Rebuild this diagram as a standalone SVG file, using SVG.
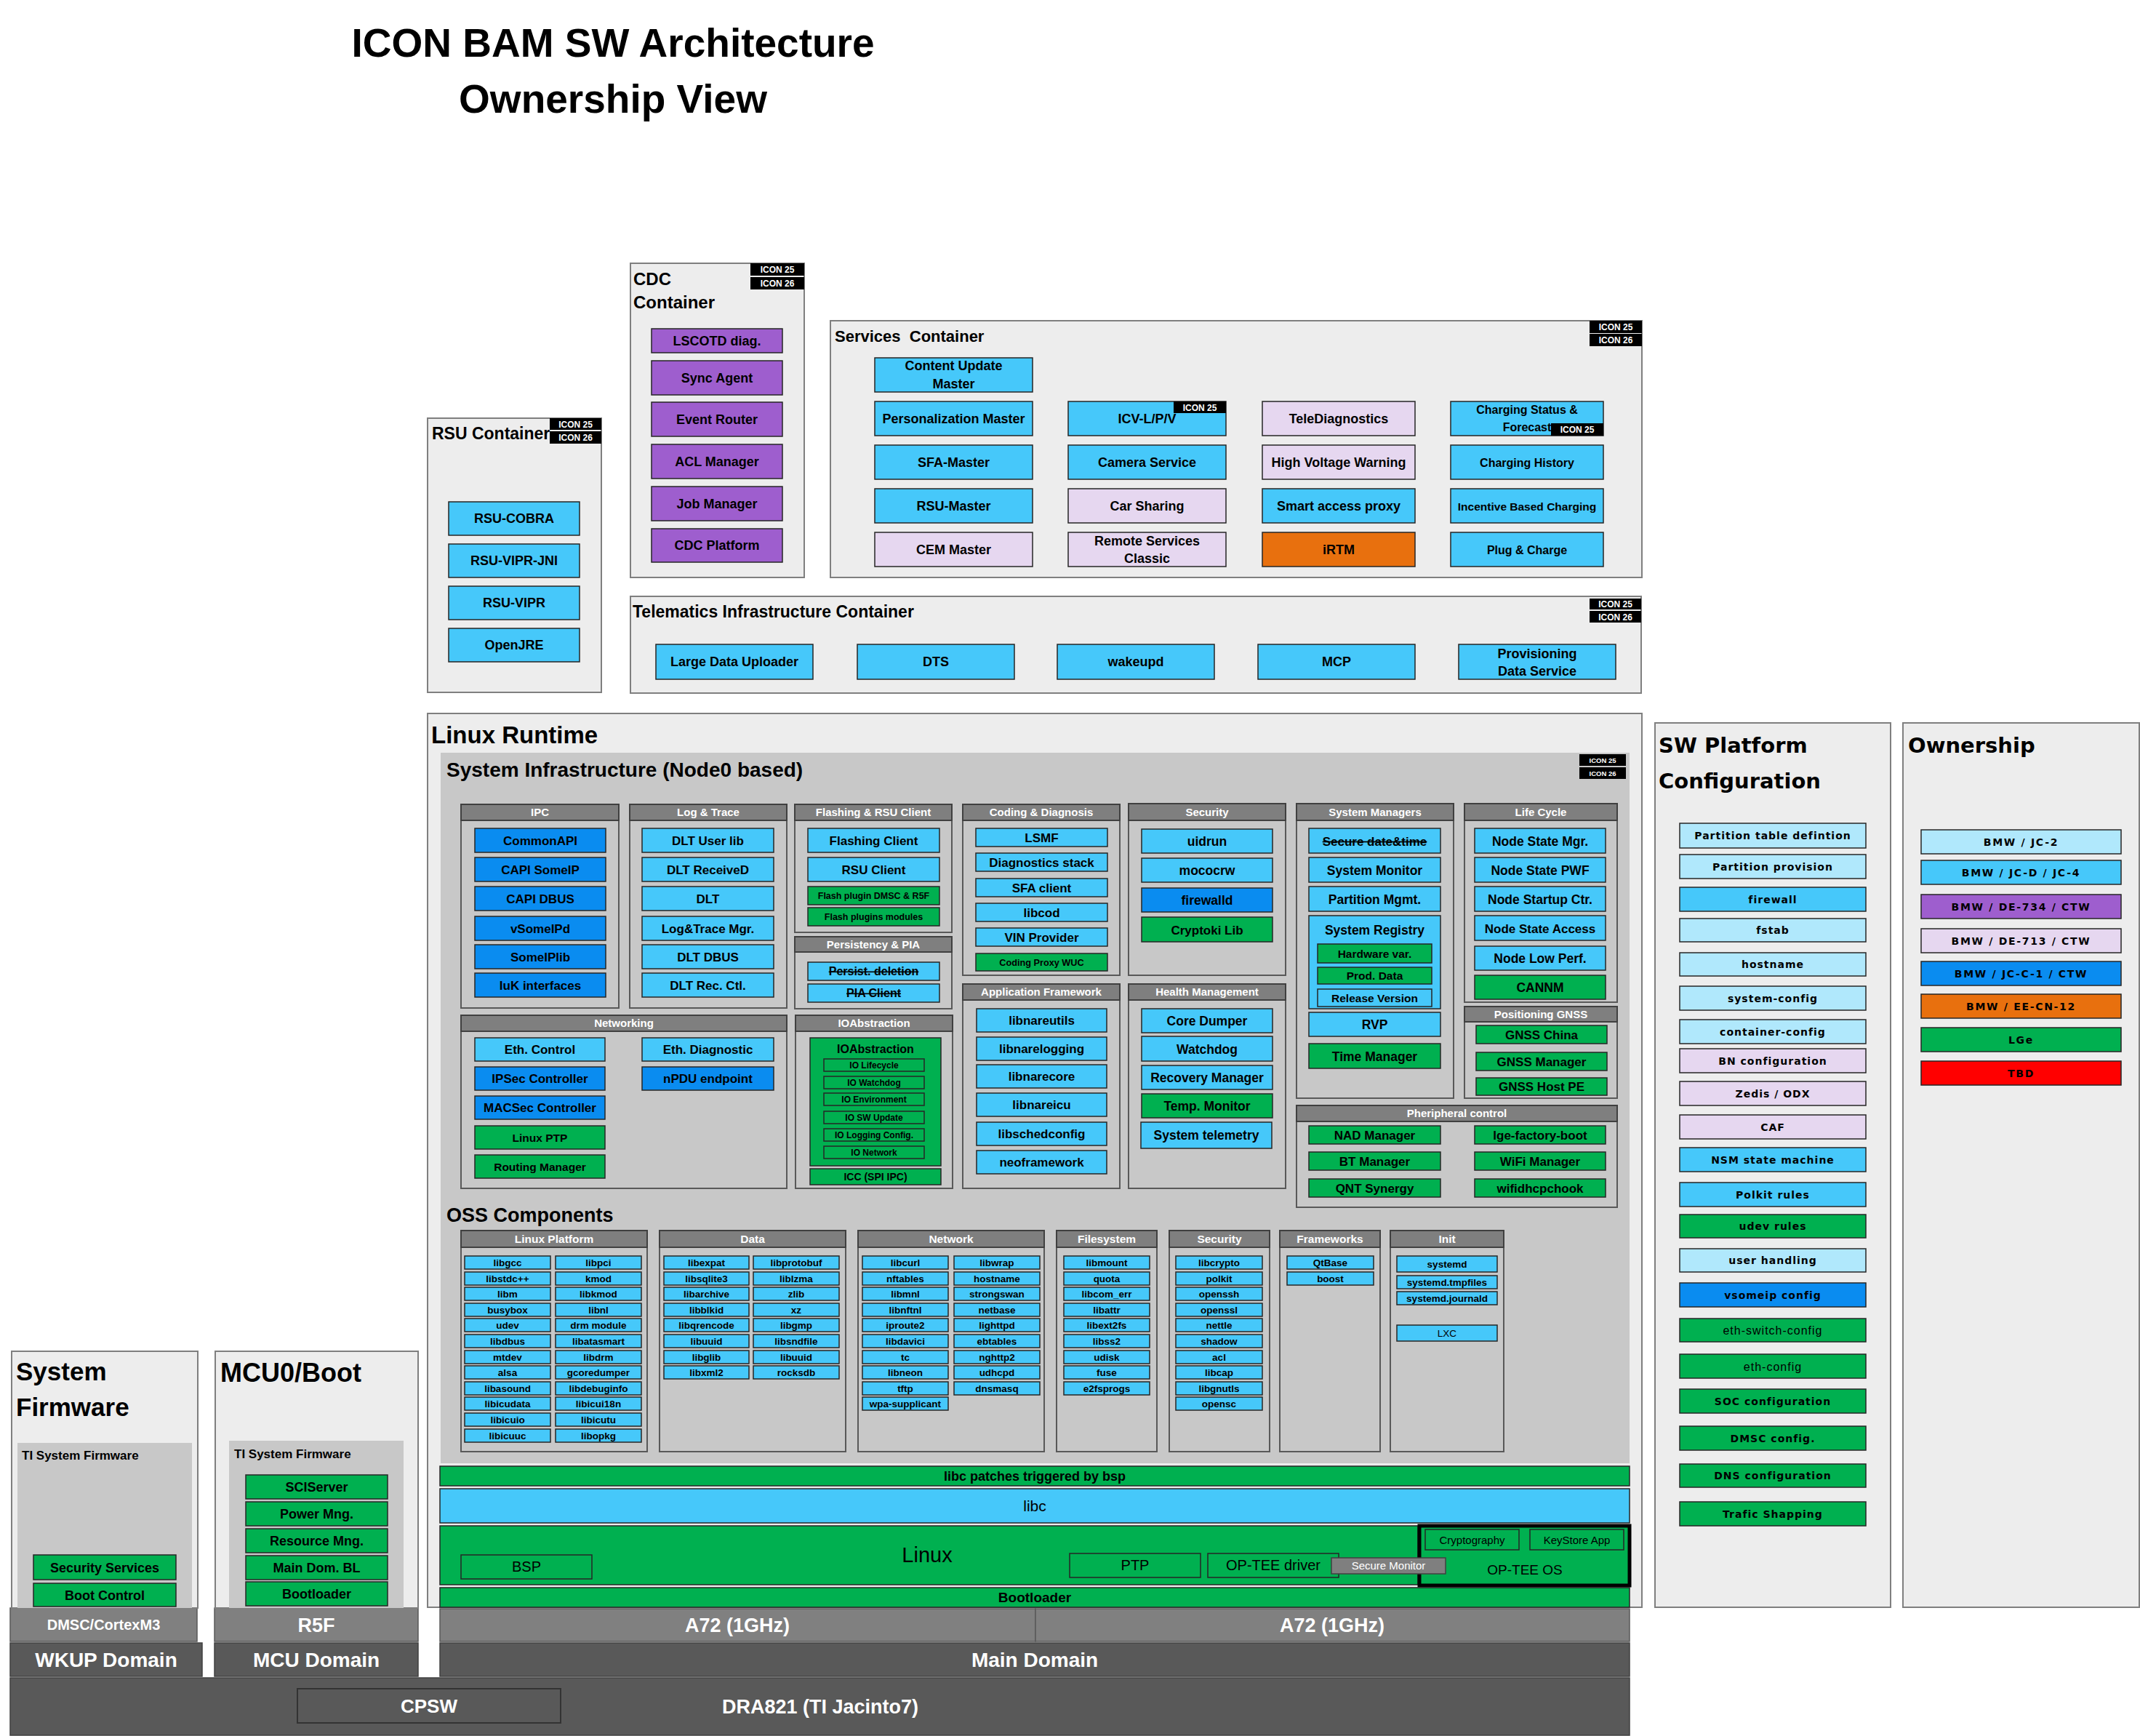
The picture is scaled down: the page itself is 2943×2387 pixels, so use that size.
<svg xmlns="http://www.w3.org/2000/svg" width="2943" height="2387" viewBox="0 0 2943 2387">
<style>
.ct{fill:#EDEDED;stroke:#7F7F7F;stroke-width:2}
.gy{fill:#C8C8C8}
.gb{fill:#C8C8C8;stroke:#595959;stroke-width:2}
.hd{fill:#7F7F7F;stroke:#404040;stroke-width:2}
.b{stroke:#262626;stroke-width:1.5}
.cy{fill:#46C8FA}.db{fill:#0A8CF0}.gr{fill:#00B050}.pu{fill:#9E5ECE}.lv{fill:#E6D7F0}.or{fill:#E8700E}.lc{fill:#B0E8FC}.rd{fill:#FF0000}
.bk{fill:#000}
.d1{fill:#808080;stroke:#595959;stroke-width:1.5}
.d2{fill:#595959;stroke:#404040;stroke-width:1.5}
.sm{fill:#7F7F7F;stroke:#404040;stroke-width:1.5}
text{font-family:"Liberation Sans",Arial,sans-serif;fill:#000}
.m{text-anchor:middle}
.B{font-weight:bold}
.w{fill:#fff}
.bt{font-size:12px;font-weight:bold;fill:#fff;text-anchor:middle}
.bs{font-size:9.5px;font-weight:bold;fill:#fff;text-anchor:middle}
.ht{font-size:15px;font-weight:bold;fill:#fff;text-anchor:middle}
.hto{font-size:15.5px;font-weight:bold;fill:#fff;text-anchor:middle}
.st{text-decoration:line-through}
.o{font-size:13.5px;font-weight:bold;text-anchor:middle}
.i{font-size:17px;font-weight:bold;text-anchor:middle}
.sv{font-size:18px;font-weight:bold;text-anchor:middle}
.j{font-size:17.5px;font-weight:bold;text-anchor:middle}
.io{font-size:12px;font-weight:bold;text-anchor:middle}
.dv{font-family:"DejaVu Sans",Verdana,sans-serif;font-weight:bold}
.sw{font-family:"DejaVu Sans",Verdana,sans-serif;font-weight:bold;font-size:14px;letter-spacing:1px;text-anchor:middle}
.ow{font-family:"DejaVu Sans",Verdana,sans-serif;font-weight:bold;font-size:14px;letter-spacing:1.7px;text-anchor:middle}
</style>

<g id="title">
<text class="m B" x="843" y="78" font-size="55">ICON BAM SW Architecture</text>
<text class="m B" x="843" y="155" font-size="55">Ownership View</text>
</g>

<!-- RSU Container -->
<g id="rsu-container">
<rect class="ct" x="588" y="575" width="239" height="377"/>
<text class="B" x="594" y="604" font-size="23">RSU Container</text>
<rect class="bk" x="756" y="575" width="71" height="16"/><text class="bt" x="791.5" y="587.5">ICON 25</text>
<rect class="bk" x="756" y="593" width="71" height="17"/><text class="bt" x="791.5" y="606">ICON 26</text>
</g>
<g id="rsu-cobra"><rect class="b cy" x="617" y="690" width="180" height="46"/><text class="m B" x="707" y="719" font-size="18">RSU-COBRA</text></g>
<g id="rsu-vipr-jni"><rect class="b cy" x="617" y="748" width="180" height="46"/><text class="m B" x="707" y="777" font-size="18">RSU-VIPR-JNI</text></g>
<g id="rsu-vipr"><rect class="b cy" x="617" y="806" width="180" height="46"/><text class="m B" x="707" y="835" font-size="18">RSU-VIPR</text></g>
<g id="openjre"><rect class="b cy" x="617" y="864" width="180" height="46"/><text class="m B" x="707" y="893" font-size="18">OpenJRE</text></g>

<!-- CDC Container -->
<g id="cdc-container">
<rect class="ct" x="867" y="362" width="239" height="432"/>
<text class="B" x="871" y="392" font-size="24">CDC</text>
<text class="B" x="871" y="424" font-size="24">Container</text>
<rect class="bk" x="1032" y="362" width="74" height="17"/><text class="bt" x="1069" y="375">ICON 25</text>
<rect class="bk" x="1032" y="381" width="74" height="17"/><text class="bt" x="1069" y="394">ICON 26</text>
</g>
<g id="lscotd"><rect class="b pu" x="896" y="452" width="180" height="33"/><text class="m B" x="986" y="475" font-size="18">LSCOTD diag.</text></g>
<g id="sync-agent"><rect class="b pu" x="896" y="496" width="180" height="47"/><text class="m B" x="986" y="526" font-size="18">Sync Agent</text></g>
<g id="event-router"><rect class="b pu" x="896" y="553" width="180" height="47"/><text class="m B" x="986" y="583" font-size="18">Event Router</text></g>
<g id="acl-manager"><rect class="b pu" x="896" y="611" width="180" height="47"/><text class="m B" x="986" y="641" font-size="18">ACL Manager</text></g>
<g id="job-manager"><rect class="b pu" x="896" y="669" width="180" height="47"/><text class="m B" x="986" y="699" font-size="18">Job Manager</text></g>
<g id="cdc-platform"><rect class="b pu" x="896" y="727" width="180" height="46"/><text class="m B" x="986" y="756" font-size="18">CDC Platform</text></g>

<!-- Services Container -->
<g id="services-container">
<rect class="ct" x="1142" y="441" width="1116" height="353"/>
<text class="B" x="1148" y="470" font-size="22" xml:space="preserve">Services  Container</text>
<rect class="bk" x="2186" y="441" width="72" height="17"/><text class="bt" x="2222" y="454">ICON 25</text>
<rect class="bk" x="2186" y="459" width="72" height="17"/><text class="bt" x="2222" y="472">ICON 26</text>
</g>
<g id="content-update-master"><rect class="b cy" x="1203" y="492" width="217" height="47"/><text class="sv" x="1311.5" y="509">Content Update</text><text class="sv" x="1311.5" y="534">Master</text></g>
<g id="personalization-master"><rect class="b cy" x="1203" y="552" width="217" height="47"/><text class="sv" x="1311.5" y="582">Personalization Master</text></g>
<g id="icv"><rect class="b cy" x="1469" y="552" width="217" height="47"/><text class="sv" x="1577.5" y="582">ICV-L/P/V</text><rect class="bk" x="1614" y="552" width="72" height="16"/><text class="bt" x="1650" y="564.5">ICON 25</text></g>
<g id="telediagnostics"><rect class="b lv" x="1736" y="552" width="210" height="47"/><text class="sv" x="1841" y="582">TeleDiagnostics</text></g>
<g id="charging-status"><rect class="b cy" x="1995" y="552" width="210" height="47"/><text class="m B" x="2100" y="569" font-size="16">Charging Status &amp;</text><text class="m B" x="2100" y="593" font-size="16">Forecast</text><rect class="bk" x="2133" y="582" width="72" height="17"/><text class="bt" x="2169" y="595">ICON 25</text></g>
<g id="sfa-master"><rect class="b cy" x="1203" y="612" width="217" height="47"/><text class="sv" x="1311.5" y="642">SFA-Master</text></g>
<g id="camera-service"><rect class="b cy" x="1469" y="612" width="217" height="47"/><text class="sv" x="1577.5" y="642">Camera Service</text></g>
<g id="high-voltage-warning"><rect class="b lv" x="1736" y="612" width="210" height="47"/><text class="sv" x="1841" y="642">High Voltage Warning</text></g>
<g id="charging-history"><rect class="b cy" x="1995" y="612" width="210" height="47"/><text class="m B" x="2100" y="642" font-size="16">Charging History</text></g>
<g id="rsu-master"><rect class="b cy" x="1203" y="672" width="217" height="47"/><text class="sv" x="1311.5" y="702">RSU-Master</text></g>
<g id="car-sharing"><rect class="b lv" x="1469" y="672" width="217" height="47"/><text class="sv" x="1577.5" y="702">Car Sharing</text></g>
<g id="smart-access-proxy"><rect class="b cy" x="1736" y="672" width="210" height="47"/><text class="sv" x="1841" y="702">Smart access proxy</text></g>
<g id="incentive-based-charging"><rect class="b cy" x="1995" y="672" width="210" height="47"/><text class="m B" x="2100" y="702" font-size="15.5">Incentive Based Charging</text></g>
<g id="cem-master"><rect class="b lv" x="1203" y="732" width="217" height="47"/><text class="sv" x="1311.5" y="762">CEM Master</text></g>
<g id="remote-services-classic"><rect class="b lv" x="1469" y="732" width="217" height="47"/><text class="sv" x="1577.5" y="750">Remote Services</text><text class="sv" x="1577.5" y="774">Classic</text></g>
<g id="irtm"><rect class="b or" x="1736" y="732" width="210" height="47"/><text class="sv" x="1841" y="762">iRTM</text></g>
<g id="plug-charge"><rect class="b cy" x="1995" y="732" width="210" height="47"/><text class="m B" x="2100" y="762" font-size="16">Plug &amp; Charge</text></g>

<!-- Telematics -->
<g id="telematics-container">
<rect class="ct" x="867" y="820" width="1390" height="133"/>
<text class="B" x="870" y="849" font-size="23">Telematics Infrastructure Container</text>
<rect class="bk" x="2186" y="823" width="71" height="15"/><text class="bt" x="2221.5" y="835">ICON 25</text>
<rect class="bk" x="2186" y="840" width="71" height="16"/><text class="bt" x="2221.5" y="852.5">ICON 26</text>
</g>
<g id="large-data-uploader"><rect class="b cy" x="902" y="886" width="216" height="48"/><text class="m B" x="1010" y="916" font-size="18">Large Data Uploader</text></g>
<g id="dts"><rect class="b cy" x="1179" y="886" width="216" height="48"/><text class="m B" x="1287" y="916" font-size="18">DTS</text></g>
<g id="wakeupd"><rect class="b cy" x="1454" y="886" width="216" height="48"/><text class="m B" x="1562" y="916" font-size="18">wakeupd</text></g>
<g id="mcp"><rect class="b cy" x="1730" y="886" width="216" height="48"/><text class="m B" x="1838" y="916" font-size="18">MCP</text></g>
<g id="provisioning-data-service"><rect class="b cy" x="2006" y="886" width="216" height="48"/><text class="m B" x="2114" y="905" font-size="18">Provisioning</text><text class="m B" x="2114" y="929" font-size="18">Data Service</text></g>

<!-- Linux Runtime -->
<g id="linux-runtime">
<rect class="ct" x="588" y="981" width="1670" height="1229"/>
<text class="B" x="593" y="1022" font-size="33">Linux Runtime</text>
<rect class="gy" x="606" y="1035" width="1635" height="977"/>
<text class="B" x="614" y="1068" font-size="28">System Infrastructure (Node0 based)</text>
<rect class="bk" x="2172" y="1037" width="64" height="16"/><text class="bs" x="2204" y="1048.5">ICON 25</text>
<rect class="bk" x="2172" y="1055" width="64" height="16"/><text class="bs" x="2204" y="1066.5">ICON 26</text>
</g>

<!-- Groups -->
<g id="grp-ipc"><rect class="gb" x="634" y="1106" width="217" height="280"/><rect class="hd" x="634" y="1106" width="217" height="22"/><text class="ht" x="742.5" y="1122">IPC</text></g>
<g id="grp-log"><rect class="gb" x="866" y="1106" width="216" height="280"/><rect class="hd" x="866" y="1106" width="216" height="22"/><text class="ht" x="974" y="1122">Log &amp; Trace</text></g>
<g id="grp-flash"><rect class="gb" x="1093" y="1106" width="216" height="176"/><rect class="hd" x="1093" y="1106" width="216" height="22"/><text class="ht" x="1201" y="1122">Flashing &amp; RSU Client</text></g>
<g id="grp-persist"><rect class="gb" x="1093" y="1288" width="216" height="99"/><rect class="hd" x="1093" y="1288" width="216" height="21"/><text class="ht" x="1201" y="1303.5">Persistency &amp; PIA</text></g>
<g id="grp-coding"><rect class="gb" x="1324" y="1106" width="216" height="235"/><rect class="hd" x="1324" y="1106" width="216" height="22"/><text class="ht" x="1432" y="1122">Coding &amp; Diagnosis</text></g>
<g id="grp-appfw"><rect class="gb" x="1324" y="1353" width="216" height="281"/><rect class="hd" x="1324" y="1353" width="216" height="22"/><text class="ht" x="1432" y="1369">Application Framework</text></g>
<g id="grp-security"><rect class="gb" x="1552" y="1105" width="216" height="236"/><rect class="hd" x="1552" y="1105" width="216" height="23"/><text class="ht" x="1660" y="1121.5">Security</text></g>
<g id="grp-health"><rect class="gb" x="1552" y="1353" width="216" height="281"/><rect class="hd" x="1552" y="1353" width="216" height="22"/><text class="ht" x="1660" y="1369">Health Management</text></g>
<g id="grp-sysmgr"><rect class="gb" x="1783" y="1105" width="216" height="405"/><rect class="hd" x="1783" y="1105" width="216" height="23"/><text class="ht" x="1891" y="1121.5">System Managers</text></g>
<g id="grp-lifecycle"><rect class="gb" x="2014" y="1105" width="210" height="273"/><rect class="hd" x="2014" y="1105" width="210" height="23"/><text class="ht" x="2119" y="1121.5">Life Cycle</text></g>
<g id="grp-gnss"><rect class="gb" x="2014" y="1384" width="210" height="126"/><rect class="hd" x="2014" y="1384" width="210" height="21"/><text class="ht" x="2119" y="1399.5">Positioning GNSS</text></g>
<g id="grp-periph"><rect class="gb" x="1783" y="1520" width="441" height="140"/><rect class="hd" x="1783" y="1520" width="441" height="22"/><text class="ht" x="2003.5" y="1536">Pheripheral control</text></g>
<g id="grp-networking"><rect class="gb" x="634" y="1396" width="448" height="238"/><rect class="hd" x="634" y="1396" width="448" height="22"/><text class="ht" x="858" y="1412">Networking</text></g>
<g id="grp-ioabs"><rect class="gb" x="1094" y="1396" width="216" height="238"/><rect class="hd" x="1094" y="1396" width="216" height="22"/><text class="ht" x="1202" y="1412">IOAbstraction</text></g>

<!-- IPC items -->
<g id="commonapi"><rect class="b db" x="653" y="1139" width="180" height="33"/><text class="i" x="743" y="1162">CommonAPI</text></g>
<g id="capi-someip"><rect class="b db" x="653" y="1179" width="180" height="33"/><text class="i" x="743" y="1202">CAPI SomeIP</text></g>
<g id="capi-dbus"><rect class="b db" x="653" y="1219" width="180" height="33"/><text class="i" x="743" y="1242">CAPI DBUS</text></g>
<g id="vsomeipd"><rect class="b db" x="653" y="1260" width="180" height="33"/><text class="i" x="743" y="1283">vSomeIPd</text></g>
<g id="someiplib"><rect class="b db" x="653" y="1299" width="180" height="33"/><text class="i" x="743" y="1322">SomeIPlib</text></g>
<g id="iuk"><rect class="b db" x="653" y="1338" width="180" height="33"/><text class="i" x="743" y="1361">IuK interfaces</text></g>
<!-- Log items -->
<g id="dlt-user-lib"><rect class="b cy" x="883" y="1139" width="181" height="33"/><text class="i" x="973.5" y="1162">DLT User lib</text></g>
<g id="dlt-received"><rect class="b cy" x="883" y="1179" width="181" height="33"/><text class="i" x="973.5" y="1202">DLT ReceiveD</text></g>
<g id="dlt"><rect class="b cy" x="883" y="1219" width="181" height="33"/><text class="i" x="973.5" y="1242">DLT</text></g>
<g id="logtrace-mgr"><rect class="b cy" x="883" y="1260" width="181" height="33"/><text class="i" x="973.5" y="1283">Log&amp;Trace Mgr.</text></g>
<g id="dlt-dbus"><rect class="b cy" x="883" y="1299" width="181" height="33"/><text class="i" x="973.5" y="1322">DLT DBUS</text></g>
<g id="dlt-rec-ctl"><rect class="b cy" x="883" y="1338" width="181" height="33"/><text class="i" x="973.5" y="1361">DLT Rec. Ctl.</text></g>
<!-- Flashing -->
<g id="flashing-client"><rect class="b cy" x="1111" y="1139" width="181" height="33"/><text class="i" x="1201.5" y="1162">Flashing Client</text></g>
<g id="rsu-client"><rect class="b cy" x="1111" y="1179" width="181" height="33"/><text class="i" x="1201.5" y="1202">RSU Client</text></g>
<g id="flash-plugin-dmsc"><rect class="b gr" x="1111" y="1219" width="181" height="25"/><text class="m B" x="1201.5" y="1236" font-size="12.5">Flash plugin DMSC &amp; R5F</text></g>
<g id="flash-plugins-modules"><rect class="b gr" x="1111" y="1248" width="181" height="25"/><text class="m B" x="1201.5" y="1265" font-size="12.5">Flash plugins modules</text></g>
<g id="persist-deletion"><rect class="b cy" x="1111" y="1323" width="181" height="25"/><text class="m B st" x="1201.5" y="1341" font-size="16">Persist. deletion</text></g>
<g id="pia-client"><rect class="b cy" x="1111" y="1353" width="181" height="25"/><text class="m B st" x="1201.5" y="1371" font-size="16">PIA Client</text></g>
<!-- Coding -->
<g id="lsmf"><rect class="b cy" x="1342" y="1139" width="181" height="25"/><text class="i" x="1432.5" y="1157.5">LSMF</text></g>
<g id="diagnostics-stack"><rect class="b cy" x="1342" y="1173" width="181" height="25"/><text class="i" x="1432.5" y="1191.5">Diagnostics stack</text></g>
<g id="sfa-client"><rect class="b cy" x="1342" y="1208" width="181" height="25"/><text class="i" x="1432.5" y="1226.5">SFA client</text></g>
<g id="libcod"><rect class="b cy" x="1342" y="1242" width="181" height="25"/><text class="i" x="1432.5" y="1260.5">libcod</text></g>
<g id="vin-provider"><rect class="b cy" x="1342" y="1276" width="181" height="25"/><text class="i" x="1432.5" y="1294.5">VIN Provider</text></g>
<g id="coding-proxy-wuc"><rect class="b gr" x="1342" y="1311" width="181" height="24"/><text class="m B" x="1432.5" y="1327.5" font-size="12.7">Coding Proxy WUC</text></g>
<!-- App Framework -->
<g id="libnareutils"><rect class="b cy" x="1343" y="1387" width="179" height="32"/><text class="i" x="1432.5" y="1409">libnareutils</text></g>
<g id="libnarelogging"><rect class="b cy" x="1343" y="1426" width="179" height="32"/><text class="i" x="1432.5" y="1448">libnarelogging</text></g>
<g id="libnarecore"><rect class="b cy" x="1343" y="1464" width="179" height="32"/><text class="i" x="1432.5" y="1486">libnarecore</text></g>
<g id="libnareicu"><rect class="b cy" x="1343" y="1503" width="179" height="32"/><text class="i" x="1432.5" y="1525">libnareicu</text></g>
<g id="libschedconfig"><rect class="b cy" x="1343" y="1543" width="179" height="32"/><text class="i" x="1432.5" y="1565">libschedconfig</text></g>
<g id="neoframework"><rect class="b cy" x="1343" y="1582" width="179" height="32"/><text class="i" x="1432.5" y="1604">neoframework</text></g>
<!-- Security -->
<g id="uidrun"><rect class="b cy" x="1570" y="1140" width="180" height="33"/><text class="j" x="1660" y="1163">uidrun</text></g>
<g id="mococrw"><rect class="b cy" x="1570" y="1180" width="180" height="33"/><text class="j" x="1660" y="1203">mococrw</text></g>
<g id="firewalld"><rect class="b db" x="1570" y="1221" width="180" height="33"/><text class="j" x="1660" y="1244">firewalld</text></g>
<g id="cryptoki-lib"><rect class="b gr" x="1570" y="1261" width="180" height="34"/><text class="i" x="1660" y="1284.5">Cryptoki Lib</text></g>
<!-- Health -->
<g id="core-dumper"><rect class="b cy" x="1570" y="1387" width="180" height="33"/><text class="j" x="1660" y="1410">Core Dumper</text></g>
<g id="watchdog"><rect class="b cy" x="1570" y="1425" width="180" height="34"/><text class="j" x="1660" y="1448.5">Watchdog</text></g>
<g id="recovery-manager"><rect class="b cy" x="1570" y="1465" width="180" height="33"/><text class="j" x="1660" y="1488">Recovery Manager</text></g>
<g id="temp-monitor"><rect class="b gr" x="1570" y="1504" width="180" height="33"/><text class="j" x="1660" y="1527">Temp. Monitor</text></g>
<g id="system-telemetry"><rect class="b cy" x="1569" y="1543" width="180" height="36"/><text class="j" x="1659" y="1567">System telemetry</text></g>
<!-- System Managers -->
<g id="secure-date-time"><rect class="b cy" x="1800" y="1139" width="181" height="34"/><text class="m B st" x="1890.5" y="1162.5" font-size="17">Secure date&amp;time</text></g>
<g id="system-monitor"><rect class="b cy" x="1800" y="1179" width="181" height="34"/><text class="j" x="1890.5" y="1202.5">System Monitor</text></g>
<g id="partition-mgmt"><rect class="b cy" x="1800" y="1219" width="181" height="34"/><text class="j" x="1890.5" y="1242.5">Partition Mgmt.</text></g>
<g id="system-registry"><rect class="b cy" x="1800" y="1259" width="181" height="128"/><text class="j" x="1890.5" y="1285">System Registry</text>
<rect class="b gr" x="1812" y="1298" width="157" height="26"/><text class="m B" x="1890.5" y="1316.5" font-size="15.5">Hardware var.</text>
<rect class="b gr" x="1812" y="1330" width="157" height="23"/><text class="m B" x="1890.5" y="1347" font-size="15.5">Prod. Data</text>
<rect class="b cy" x="1812" y="1360" width="157" height="24"/><text class="m B" x="1890.5" y="1377.5" font-size="15.5">Release Version</text></g>
<g id="rvp"><rect class="b cy" x="1800" y="1392" width="181" height="33"/><text class="j" x="1890.5" y="1415">RVP</text></g>
<g id="time-manager"><rect class="b gr" x="1800" y="1435" width="181" height="34"/><text class="j" x="1890.5" y="1458.5">Time Manager</text></g>
<!-- Life Cycle -->
<g id="node-state-mgr"><rect class="b cy" x="2028" y="1139" width="180" height="34"/><text class="j" x="2118" y="1162.5">Node State Mgr.</text></g>
<g id="node-state-pwf"><rect class="b cy" x="2028" y="1179" width="180" height="34"/><text class="j" x="2118" y="1202.5">Node State PWF</text></g>
<g id="node-startup-ctr"><rect class="b cy" x="2028" y="1219" width="180" height="34"/><text class="j" x="2118" y="1242.5">Node Startup Ctr.</text></g>
<g id="node-state-access"><rect class="b cy" x="2028" y="1259" width="180" height="34"/><text class="m B" x="2118" y="1282.5" font-size="17">Node State Access</text></g>
<g id="node-low-perf"><rect class="b cy" x="2028" y="1301" width="180" height="33"/><text class="j" x="2118" y="1324">Node Low Perf.</text></g>
<g id="cannm"><rect class="b gr" x="2028" y="1341" width="180" height="33"/><text class="j" x="2118" y="1364">CANNM</text></g>
<!-- GNSS -->
<g id="gnss-china"><rect class="b gr" x="2030" y="1410" width="180" height="25"/><text class="i" x="2120" y="1428.5">GNSS China</text></g>
<g id="gnss-manager"><rect class="b gr" x="2030" y="1447" width="180" height="25"/><text class="i" x="2120" y="1465.5">GNSS Manager</text></g>
<g id="gnss-host-pe"><rect class="b gr" x="2030" y="1482" width="180" height="24"/><text class="i" x="2120" y="1500">GNSS Host PE</text></g>
<!-- Peripheral -->
<g id="nad-manager"><rect class="b gr" x="1800" y="1548" width="181" height="25"/><text class="i" x="1890.5" y="1566.5">NAD Manager</text></g>
<g id="bt-manager"><rect class="b gr" x="1800" y="1584" width="181" height="25"/><text class="i" x="1890.5" y="1602.5">BT Manager</text></g>
<g id="qnt-synergy"><rect class="b gr" x="1800" y="1621" width="181" height="25"/><text class="i" x="1890.5" y="1639.5">QNT Synergy</text></g>
<g id="lge-factory-boot"><rect class="b gr" x="2028" y="1548" width="180" height="25"/><text class="i" x="2118" y="1566.5">lge-factory-boot</text></g>
<g id="wifi-manager"><rect class="b gr" x="2028" y="1584" width="180" height="25"/><text class="i" x="2118" y="1602.5">WiFi Manager</text></g>
<g id="wifidhcpchook"><rect class="b gr" x="2028" y="1621" width="180" height="25"/><text class="i" x="2118" y="1639.5">wifidhcpchook</text></g>
<!-- Networking -->
<g id="eth-control"><rect class="b cy" x="653" y="1427" width="179" height="32"/><text class="i" x="742.5" y="1449">Eth. Control</text></g>
<g id="ipsec-controller"><rect class="b db" x="653" y="1467" width="179" height="32"/><text class="i" x="742.5" y="1489">IPSec Controller</text></g>
<g id="macsec-controller"><rect class="b db" x="653" y="1507" width="179" height="32"/><text class="i" x="742.5" y="1529">MACSec Controller</text></g>
<g id="linux-ptp"><rect class="b gr" x="653" y="1548" width="179" height="32"/><text class="m B" x="742.5" y="1569.5" font-size="15.5">Linux PTP</text></g>
<g id="routing-manager"><rect class="b gr" x="653" y="1588" width="179" height="32"/><text class="m B" x="742.5" y="1609.5" font-size="15.5">Routing Manager</text></g>
<g id="eth-diagnostic"><rect class="b cy" x="883" y="1427" width="181" height="32"/><text class="i" x="973.5" y="1449">Eth. Diagnostic</text></g>
<g id="npdu-endpoint"><rect class="b db" x="883" y="1467" width="181" height="32"/><text class="i" x="973.5" y="1489">nPDU endpoint</text></g>
<!-- IOAbstraction -->
<g id="ioabstraction"><rect class="b gr" x="1114" y="1427" width="180" height="176"/><text class="m B" x="1204" y="1448" font-size="16">IOAbstraction</text>
<rect class="b gr" x="1133" y="1456" width="138" height="17"/><text class="io" x="1202" y="1468.7">IO Lifecycle</text>
<rect class="b gr" x="1133" y="1480" width="138" height="17"/><text class="io" x="1202" y="1492.7">IO Watchdog</text>
<rect class="b gr" x="1133" y="1503" width="138" height="17"/><text class="io" x="1202" y="1515.7">IO Environment</text>
<rect class="b gr" x="1133" y="1528" width="138" height="17"/><text class="io" x="1202" y="1540.7">IO SW Update</text>
<rect class="b gr" x="1133" y="1552" width="138" height="17"/><text class="io" x="1202" y="1564.7">IO Logging Config.</text>
<rect class="b gr" x="1133" y="1576" width="138" height="17"/><text class="io" x="1202" y="1588.7">IO Network</text></g>
<g id="icc-spi-ipc"><rect class="b gr" x="1114" y="1607" width="180" height="22"/><text class="m B" x="1204" y="1623" font-size="14">ICC (SPI IPC)</text></g>

<!-- OSS Components -->
<g id="oss-title"><text class="B" x="614" y="1680" font-size="27">OSS Components</text></g>
<g id="oss-linux-platform"><rect class="gb" x="634" y="1692" width="256" height="304"/><rect class="hd" x="634" y="1692" width="256" height="23"/><text class="hto" x="762" y="1709">Linux Platform</text>
<g class="cy b">
<rect x="639" y="1727" width="118" height="18"/><rect x="639" y="1749" width="118" height="18"/><rect x="639" y="1770" width="118" height="18"/><rect x="639" y="1792" width="118" height="18"/><rect x="639" y="1813" width="118" height="18"/><rect x="639" y="1835" width="118" height="18"/><rect x="639" y="1857" width="118" height="18"/><rect x="639" y="1878" width="118" height="18"/><rect x="639" y="1900" width="118" height="18"/><rect x="639" y="1921" width="118" height="18"/><rect x="639" y="1943" width="118" height="18"/><rect x="639" y="1965" width="118" height="18"/>
<rect x="764" y="1727" width="118" height="18"/><rect x="764" y="1749" width="118" height="18"/><rect x="764" y="1770" width="118" height="18"/><rect x="764" y="1792" width="118" height="18"/><rect x="764" y="1813" width="118" height="18"/><rect x="764" y="1835" width="118" height="18"/><rect x="764" y="1857" width="118" height="18"/><rect x="764" y="1878" width="118" height="18"/><rect x="764" y="1900" width="118" height="18"/><rect x="764" y="1921" width="118" height="18"/><rect x="764" y="1943" width="118" height="18"/><rect x="764" y="1965" width="118" height="18"/>
</g>
<text class="o" x="698" y="1740.7">libgcc</text><text class="o" x="698" y="1762.7">libstdc++</text><text class="o" x="698" y="1783.7">libm</text><text class="o" x="698" y="1805.7">busybox</text><text class="o" x="698" y="1826.7">udev</text><text class="o" x="698" y="1848.7">libdbus</text><text class="o" x="698" y="1870.7">mtdev</text><text class="o" x="698" y="1891.7">alsa</text><text class="o" x="698" y="1913.7">libasound</text><text class="o" x="698" y="1934.7">libicudata</text><text class="o" x="698" y="1956.7">libicuio</text><text class="o" x="698" y="1978.7">libicuuc</text>
<text class="o" x="823" y="1740.7">libpci</text><text class="o" x="823" y="1762.7">kmod</text><text class="o" x="823" y="1783.7">libkmod</text><text class="o" x="823" y="1805.7">libnl</text><text class="o" x="823" y="1826.7">drm module</text><text class="o" x="823" y="1848.7">libatasmart</text><text class="o" x="823" y="1870.7">libdrm</text><text class="o" x="823" y="1891.7">gcoredumper</text><text class="o" x="823" y="1913.7">libdebuginfo</text><text class="o" x="823" y="1934.7">libicui18n</text><text class="o" x="823" y="1956.7">libicutu</text><text class="o" x="823" y="1978.7">libopkg</text>
</g>
<g id="oss-data"><rect class="gb" x="907" y="1692" width="256" height="304"/><rect class="hd" x="907" y="1692" width="256" height="23"/><text class="hto" x="1035" y="1709">Data</text>
<g class="cy b">
<rect x="913" y="1727" width="117" height="18"/><rect x="913" y="1749" width="117" height="18"/><rect x="913" y="1770" width="117" height="18"/><rect x="913" y="1792" width="117" height="18"/><rect x="913" y="1813" width="117" height="18"/><rect x="913" y="1835" width="117" height="18"/><rect x="913" y="1857" width="117" height="18"/><rect x="913" y="1878" width="117" height="18"/>
<rect x="1036" y="1727" width="118" height="18"/><rect x="1036" y="1749" width="118" height="18"/><rect x="1036" y="1770" width="118" height="18"/><rect x="1036" y="1792" width="118" height="18"/><rect x="1036" y="1813" width="118" height="18"/><rect x="1036" y="1835" width="118" height="18"/><rect x="1036" y="1857" width="118" height="18"/><rect x="1036" y="1878" width="118" height="18"/>
</g>
<text class="o" x="971.5" y="1740.7">libexpat</text><text class="o" x="971.5" y="1762.7">libsqlite3</text><text class="o" x="971.5" y="1783.7">libarchive</text><text class="o" x="971.5" y="1805.7">libblkid</text><text class="o" x="971.5" y="1826.7">libqrencode</text><text class="o" x="971.5" y="1848.7">libuuid</text><text class="o" x="971.5" y="1870.7">libglib</text><text class="o" x="971.5" y="1891.7">libxml2</text>
<text class="o" x="1095" y="1740.7">libprotobuf</text><text class="o" x="1095" y="1762.7">liblzma</text><text class="o" x="1095" y="1783.7">zlib</text><text class="o" x="1095" y="1805.7">xz</text><text class="o" x="1095" y="1826.7">libgmp</text><text class="o" x="1095" y="1848.7">libsndfile</text><text class="o" x="1095" y="1870.7">libuuid</text><text class="o" x="1095" y="1891.7">rocksdb</text>
</g>
<g id="oss-network"><rect class="gb" x="1180" y="1692" width="256" height="304"/><rect class="hd" x="1180" y="1692" width="256" height="23"/><text class="hto" x="1308" y="1709">Network</text>
<g class="cy b">
<rect x="1186" y="1727" width="118" height="18"/><rect x="1186" y="1749" width="118" height="18"/><rect x="1186" y="1770" width="118" height="18"/><rect x="1186" y="1792" width="118" height="18"/><rect x="1186" y="1813" width="118" height="18"/><rect x="1186" y="1835" width="118" height="18"/><rect x="1186" y="1857" width="118" height="18"/><rect x="1186" y="1878" width="118" height="18"/><rect x="1186" y="1900" width="118" height="18"/><rect x="1186" y="1921" width="118" height="18"/>
<rect x="1312" y="1727" width="118" height="18"/><rect x="1312" y="1749" width="118" height="18"/><rect x="1312" y="1770" width="118" height="18"/><rect x="1312" y="1792" width="118" height="18"/><rect x="1312" y="1813" width="118" height="18"/><rect x="1312" y="1835" width="118" height="18"/><rect x="1312" y="1857" width="118" height="18"/><rect x="1312" y="1878" width="118" height="18"/><rect x="1312" y="1900" width="118" height="18"/>
</g>
<text class="o" x="1245" y="1740.7">libcurl</text><text class="o" x="1245" y="1762.7">nftables</text><text class="o" x="1245" y="1783.7">libmnl</text><text class="o" x="1245" y="1805.7">libnftnl</text><text class="o" x="1245" y="1826.7">iproute2</text><text class="o" x="1245" y="1848.7">libdavici</text><text class="o" x="1245" y="1870.7">tc</text><text class="o" x="1245" y="1891.7">libneon</text><text class="o" x="1245" y="1913.7">tftp</text><text class="o" x="1245" y="1934.7">wpa-supplicant</text>
<text class="o" x="1371" y="1740.7">libwrap</text><text class="o" x="1371" y="1762.7">hostname</text><text class="o" x="1371" y="1783.7">strongswan</text><text class="o" x="1371" y="1805.7">netbase</text><text class="o" x="1371" y="1826.7">lighttpd</text><text class="o" x="1371" y="1848.7">ebtables</text><text class="o" x="1371" y="1870.7">nghttp2</text><text class="o" x="1371" y="1891.7">udhcpd</text><text class="o" x="1371" y="1913.7">dnsmasq</text>
</g>
<g id="oss-filesystem"><rect class="gb" x="1453" y="1692" width="138" height="304"/><rect class="hd" x="1453" y="1692" width="138" height="23"/><text class="hto" x="1522" y="1709">Filesystem</text>
<g class="cy b">
<rect x="1463" y="1727" width="118" height="18"/><rect x="1463" y="1749" width="118" height="18"/><rect x="1463" y="1770" width="118" height="18"/><rect x="1463" y="1792" width="118" height="18"/><rect x="1463" y="1813" width="118" height="18"/><rect x="1463" y="1835" width="118" height="18"/><rect x="1463" y="1857" width="118" height="18"/><rect x="1463" y="1878" width="118" height="18"/><rect x="1463" y="1900" width="118" height="18"/>
</g>
<text class="o" x="1522" y="1740.7">libmount</text><text class="o" x="1522" y="1762.7">quota</text><text class="o" x="1522" y="1783.7">libcom_err</text><text class="o" x="1522" y="1805.7">libattr</text><text class="o" x="1522" y="1826.7">libext2fs</text><text class="o" x="1522" y="1848.7">libss2</text><text class="o" x="1522" y="1870.7">udisk</text><text class="o" x="1522" y="1891.7">fuse</text><text class="o" x="1522" y="1913.7">e2fsprogs</text>
</g>
<g id="oss-security"><rect class="gb" x="1608" y="1692" width="138" height="304"/><rect class="hd" x="1608" y="1692" width="138" height="23"/><text class="hto" x="1677" y="1709">Security</text>
<g class="cy b">
<rect x="1617" y="1727" width="119" height="18"/><rect x="1617" y="1749" width="119" height="18"/><rect x="1617" y="1770" width="119" height="18"/><rect x="1617" y="1792" width="119" height="18"/><rect x="1617" y="1813" width="119" height="18"/><rect x="1617" y="1835" width="119" height="18"/><rect x="1617" y="1857" width="119" height="18"/><rect x="1617" y="1878" width="119" height="18"/><rect x="1617" y="1900" width="119" height="18"/><rect x="1617" y="1921" width="119" height="18"/>
</g>
<text class="o" x="1676.5" y="1740.7">libcrypto</text><text class="o" x="1676.5" y="1762.7">polkit</text><text class="o" x="1676.5" y="1783.7">openssh</text><text class="o" x="1676.5" y="1805.7">openssl</text><text class="o" x="1676.5" y="1826.7">nettle</text><text class="o" x="1676.5" y="1848.7">shadow</text><text class="o" x="1676.5" y="1870.7">acl</text><text class="o" x="1676.5" y="1891.7">libcap</text><text class="o" x="1676.5" y="1913.7">libgnutls</text><text class="o" x="1676.5" y="1934.7">opensc</text>
</g>
<g id="oss-frameworks"><rect class="gb" x="1760" y="1692" width="138" height="304"/><rect class="hd" x="1760" y="1692" width="138" height="23"/><text class="hto" x="1829" y="1709">Frameworks</text>
<rect class="cy b" x="1770" y="1727" width="119" height="18"/><rect class="cy b" x="1770" y="1749" width="119" height="18"/>
<text class="o" x="1829.5" y="1740.7">QtBase</text><text class="o" x="1829.5" y="1762.7">boost</text>
</g>
<g id="oss-init"><rect class="gb" x="1912" y="1692" width="156" height="304"/><rect class="hd" x="1912" y="1692" width="156" height="23"/><text class="hto" x="1990" y="1709">Init</text>
<rect class="cy b" x="1921" y="1727" width="138" height="22"/><text class="o" x="1990" y="1742.5">systemd</text>
<rect class="cy b" x="1921" y="1754" width="138" height="18"/><text class="o" x="1990" y="1767.7">systemd.tmpfiles</text>
<rect class="cy b" x="1921" y="1776" width="138" height="18"/><text class="o" x="1990" y="1789.7">systemd.journald</text>
<rect class="cy b" x="1921" y="1822" width="138" height="22"/><text class="m" x="1990" y="1837.5" font-size="13.5">LXC</text>
</g>

<!-- Platform layers -->
<g id="libc-patches"><rect class="b gr" x="605" y="2016" width="1636" height="27"/><text class="m B" x="1423" y="2036" font-size="18">libc patches triggered by bsp</text></g>
<g id="libc"><rect class="b cy" x="605" y="2047" width="1636" height="47"/><text class="m" x="1423" y="2078" font-size="21">libc</text></g>
<g id="linux"><rect class="b gr" x="605" y="2098" width="1345" height="81"/><text class="m" x="1275" y="2148" font-size="29">Linux</text>
<rect class="b gr" x="634" y="2138" width="180" height="33"/><text class="m" x="724" y="2161" font-size="20">BSP</text>
<rect class="b gr" x="1471" y="2136" width="180" height="33"/><text class="m" x="1561" y="2159" font-size="20">PTP</text>
<rect class="b gr" x="1661" y="2136" width="180" height="33"/><text class="m" x="1751" y="2159" font-size="20">OP-TEE driver</text></g>
<g id="optee-os"><rect class="gr" x="1952" y="2098" width="289" height="82" stroke="#000" stroke-width="5"/>
<rect class="b gr" x="1960" y="2103" width="129" height="28"/><text class="m" x="2024.5" y="2122.5" font-size="15">Cryptography</text>
<rect class="b gr" x="2104" y="2103" width="129" height="28"/><text class="m" x="2168.5" y="2122.5" font-size="15">KeyStore App</text>
<text class="m" x="2097" y="2165" font-size="19">OP-TEE OS</text></g>
<g id="secure-monitor"><rect class="sm" x="1831" y="2142" width="157" height="22"/><text class="m w" x="1909.5" y="2158" font-size="15">Secure Monitor</text></g>
<g id="bootloader-main"><rect class="b gr" x="605" y="2183" width="1636" height="27"/><text class="m B" x="1423" y="2203" font-size="19">Bootloader</text></g>
<g id="a72-1"><rect class="d1" x="605" y="2212" width="819" height="45"/><text class="m B w" x="1014" y="2244" font-size="27">A72 (1GHz)</text></g>
<g id="a72-2"><rect class="d1" x="1424" y="2212" width="817" height="45"/><text class="m B w" x="1832" y="2244" font-size="27">A72 (1GHz)</text></g>
<g id="main-domain"><rect class="d2" x="605" y="2259" width="1636" height="46"/><text class="m B w" x="1423" y="2292" font-size="28">Main Domain</text></g>
<g id="dmsc-cortexm3"><rect class="d1" x="14" y="2211" width="257" height="46"/><text class="m B w" x="142.5" y="2241" font-size="20">DMSC/CortexM3</text></g>
<g id="r5f"><rect class="d1" x="295" y="2211" width="280" height="46"/><text class="m B w" x="435" y="2244" font-size="27">R5F</text></g>
<g id="wkup-domain"><rect class="d2" x="14" y="2259" width="264" height="46"/><text class="m B w" x="146" y="2292" font-size="28">WKUP Domain</text></g>
<g id="mcu-domain"><rect class="d2" x="295" y="2259" width="280" height="46"/><text class="m B w" x="435" y="2292" font-size="28">MCU Domain</text></g>
<g id="dra821"><rect class="d2" x="14" y="2307" width="2227" height="79"/><text class="m B w" x="1128" y="2356" font-size="27">DRA821 (TI Jacinto7)</text></g>
<g id="cpsw"><rect x="409" y="2322" width="362" height="47" fill="#595959" stroke="#333" stroke-width="2"/><text class="m B w" x="590" y="2355" font-size="26">CPSW</text></g>

<!-- System Firmware -->
<g id="system-firmware">
<rect class="ct" x="16" y="1858" width="256" height="353"/>
<text class="B" x="22" y="1898" font-size="35">System</text>
<text class="B" x="22" y="1947" font-size="35">Firmware</text>
<rect class="gy" x="24" y="1984" width="240" height="227"/>
<text class="B" x="30" y="2007" font-size="17">TI System Firmware</text>
</g>
<g id="security-services"><rect class="b gr" x="46" y="2138" width="196" height="34"/><text class="m B" x="144" y="2161.5" font-size="18">Security Services</text></g>
<g id="boot-control"><rect class="b gr" x="46" y="2177" width="196" height="32"/><text class="m B" x="144" y="2199.5" font-size="18">Boot Control</text></g>

<!-- MCU0/Boot -->
<g id="mcu0-boot">
<rect class="ct" x="296" y="1858" width="279" height="353"/>
<text class="B" x="303" y="1900" font-size="36">MCU0/Boot</text>
<rect class="gy" x="315" y="1981" width="240" height="230"/>
<text class="B" x="322" y="2005" font-size="17">TI System Firmware</text>
</g>
<g id="sciserver"><rect class="b gr" x="338" y="2028" width="195" height="33"/><text class="m B" x="435.5" y="2051" font-size="18">SCIServer</text></g>
<g id="power-mng"><rect class="b gr" x="338" y="2065" width="195" height="33"/><text class="m B" x="435.5" y="2088" font-size="18">Power Mng.</text></g>
<g id="resource-mng"><rect class="b gr" x="338" y="2102" width="195" height="33"/><text class="m B" x="435.5" y="2125" font-size="18">Resource Mng.</text></g>
<g id="main-dom-bl"><rect class="b gr" x="338" y="2139" width="195" height="33"/><text class="m B" x="435.5" y="2162" font-size="18">Main Dom. BL</text></g>
<g id="bootloader-mcu"><rect class="b gr" x="338" y="2175" width="195" height="33"/><text class="m B" x="435.5" y="2198" font-size="18">Bootloader</text></g>

<!-- SW Platform Configuration -->
<g id="sw-platform-config">
<rect class="ct" x="2276" y="994" width="324" height="1216"/>
<text class="dv" x="2281" y="1035" font-size="29">SW Platform</text>
<text class="dv" x="2281" y="1084" font-size="29">Configuration</text>
</g>
<g id="swp-items">
<g id="swp-1"><rect class="b lc" x="2310" y="1132" width="256" height="34"/><text class="sw" x="2438" y="1154">Partition table defintion</text></g>
<g id="swp-2"><rect class="b lc" x="2310" y="1175" width="256" height="33"/><text class="sw" x="2438" y="1196.5">Partition provision</text></g>
<g id="swp-3"><rect class="b cy" x="2310" y="1220" width="256" height="33"/><text class="sw" x="2438" y="1241.5">firewall</text></g>
<g id="swp-4"><rect class="b lc" x="2310" y="1263" width="256" height="32"/><text class="sw" x="2438" y="1284">fstab</text></g>
<g id="swp-5"><rect class="b lc" x="2310" y="1310" width="256" height="32"/><text class="sw" x="2438" y="1331">hostname</text></g>
<g id="swp-6"><rect class="b lc" x="2310" y="1356" width="256" height="33"/><text class="sw" x="2438" y="1377.5">system-config</text></g>
<g id="swp-7"><rect class="b lc" x="2310" y="1402" width="256" height="33"/><text class="sw" x="2438" y="1423.5">container-config</text></g>
<g id="swp-8"><rect class="b lv" x="2310" y="1442" width="256" height="33"/><text class="sw" x="2438" y="1463.5">BN configuration</text></g>
<g id="swp-9"><rect class="b lv" x="2310" y="1487" width="256" height="33"/><text class="sw" x="2438" y="1508.5">Zedis / ODX</text></g>
<g id="swp-10"><rect class="b lv" x="2310" y="1533" width="256" height="33"/><text class="sw" x="2438" y="1554.5">CAF</text></g>
<g id="swp-11"><rect class="b cy" x="2310" y="1578" width="256" height="33"/><text class="sw" x="2438" y="1599.5">NSM state machine</text></g>
<g id="swp-12"><rect class="b cy" x="2310" y="1626" width="256" height="33"/><text class="sw" x="2438" y="1647.5">Polkit rules</text></g>
<g id="swp-13"><rect class="b gr" x="2310" y="1670" width="256" height="32"/><text class="sw" x="2438" y="1691">udev rules</text></g>
<g id="swp-14"><rect class="b lc" x="2310" y="1717" width="256" height="32"/><text class="sw" x="2438" y="1738">user handling</text></g>
<g id="swp-15"><rect class="b db" x="2310" y="1764" width="256" height="33"/><text class="sw" x="2438" y="1785.5">vsomeip config</text></g>
<g id="swp-16"><rect class="b gr" x="2310" y="1813" width="256" height="32"/><text class="m" x="2438" y="1835" font-family="DejaVu Sans, sans-serif" font-size="16" letter-spacing="1">eth-switch-config</text></g>
<g id="swp-17"><rect class="b gr" x="2310" y="1862" width="256" height="33"/><text class="m" x="2438" y="1884.5" font-family="DejaVu Sans, sans-serif" font-size="16" letter-spacing="1">eth-config</text></g>
<g id="swp-18"><rect class="b gr" x="2310" y="1910" width="256" height="33"/><text class="sw" x="2438" y="1931.5">SOC configuration</text></g>
<g id="swp-19"><rect class="b gr" x="2310" y="1961" width="256" height="33"/><text class="sw" x="2438" y="1982.5">DMSC config.</text></g>
<g id="swp-20"><rect class="b gr" x="2310" y="2013" width="256" height="32"/><text class="sw" x="2438" y="2034">DNS configuration</text></g>
<g id="swp-21"><rect class="b gr" x="2310" y="2065" width="256" height="33"/><text class="sw" x="2438" y="2086.5">Trafic Shapping</text></g>
</g>

<!-- Ownership -->
<g id="ownership">
<rect class="ct" x="2617" y="994" width="325" height="1216"/>
<text class="dv" x="2624" y="1035" font-size="29">Ownership</text>
</g>
<g id="own-items">
<g id="own-1"><rect class="b lc" x="2642" y="1141" width="275" height="33"/><text class="ow" x="2779.5" y="1162.5">BMW / JC-2</text></g>
<g id="own-2"><rect class="b cy" x="2642" y="1183" width="275" height="33"/><text class="ow" x="2779.5" y="1204.5">BMW / JC-D / JC-4</text></g>
<g id="own-3"><rect class="b pu" x="2642" y="1230" width="275" height="33"/><text class="ow" x="2779.5" y="1251.5">BMW / DE-734 / CTW</text></g>
<g id="own-4"><rect class="b lv" x="2642" y="1277" width="275" height="33"/><text class="ow" x="2779.5" y="1298.5">BMW / DE-713 / CTW</text></g>
<g id="own-5"><rect class="b db" x="2642" y="1322" width="275" height="33"/><text class="ow" x="2779.5" y="1343.5">BMW / JC-C-1 / CTW</text></g>
<g id="own-6"><rect class="b or" x="2642" y="1367" width="275" height="33"/><text class="ow" x="2779.5" y="1388.5">BMW / EE-CN-12</text></g>
<g id="own-7"><rect class="b gr" x="2642" y="1413" width="275" height="33"/><text class="ow" x="2779.5" y="1434.5">LGe</text></g>
<g id="own-8"><rect class="b rd" x="2642" y="1459" width="275" height="33"/><text class="ow" x="2779.5" y="1480.5">TBD</text></g>
</g>
</svg>
